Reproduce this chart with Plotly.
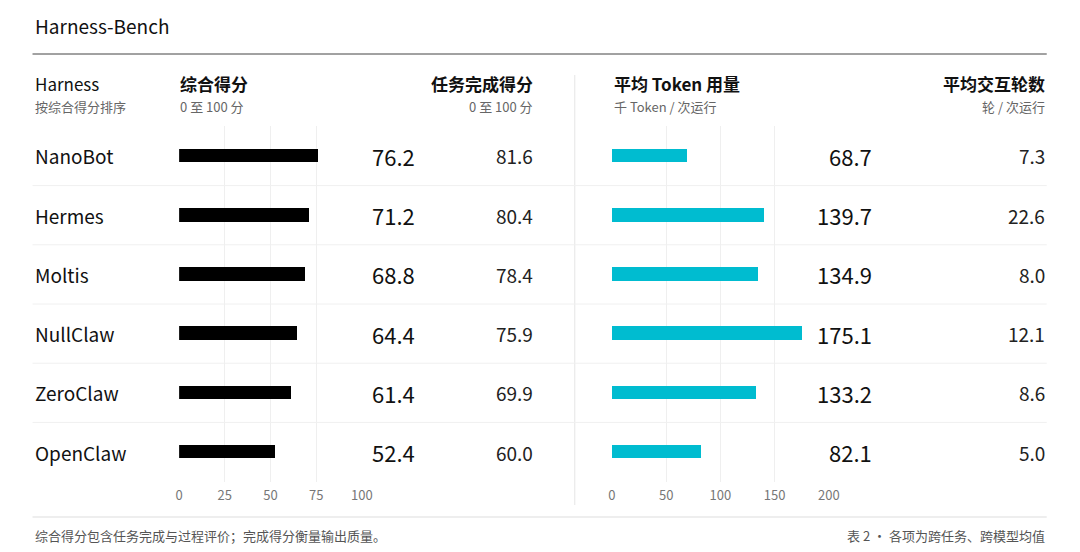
import plotly.graph_objects as go

harness = ["NanoBot", "Hermes", "Moltis", "NullClaw", "ZeroClaw", "OpenClaw"]
overall = [76.2, 71.2, 68.8, 64.4, 61.4, 52.4]
completion = [81.6, 80.4, 78.4, 75.9, 69.9, 60.0]
tokens = [68.7, 139.7, 134.9, 175.1, 133.2, 82.1]
turns = [7.3, 22.6, 8.0, 12.1, 8.6, 5.0]
left_ticks = [0, 25, 50, 75, 100]
right_ticks = [0, 50, 100, 150, 200]

W, H = 1080, 552
FONT = "Noto Sans CJK SC"
px = lambda x: (x - 6.6) / 0.982 / W
py = lambda y: 1 - y / H
rows = list(range(len(harness)))

fig = go.Figure()
fig.add_trace(go.Bar(x=overall, y=rows, orientation="h", marker=dict(color="#000000", line_width=0),
                     width=0.23, xaxis="x", yaxis="y", hoverinfo="skip"))
fig.add_trace(go.Bar(x=tokens, y=rows, orientation="h", marker=dict(color="#00BCD0", line_width=0),
                     width=0.23, xaxis="x2", yaxis="y2", hoverinfo="skip"))

ydom = [py(481.6), py(126.4)]
axcommon = dict(showgrid=True, gridcolor="#EFEFEF", gridwidth=1, zeroline=False, showline=False,
                tickfont=dict(size=13, color="#777777", family=FONT), ticks="", fixedrange=True,
                ticklabelstandoff=4)
fig.update_layout(
    width=W, height=H, margin=dict(l=0, r=0, t=0, b=0),
    paper_bgcolor="white", plot_bgcolor="rgba(0,0,0,0)", showlegend=False, bargap=0,
    font=dict(family=FONT, color="#111111"),
    xaxis=dict(domain=[px(181), px(363)], range=[0, 100], tickvals=left_ticks, anchor="y", **axcommon),
    xaxis2=dict(domain=[px(612), px(828)], range=[0, 200], tickvals=right_ticks, anchor="y2", **axcommon),
    yaxis=dict(domain=ydom, range=[5.5, -0.5], visible=False, fixedrange=True),
    yaxis2=dict(domain=ydom, range=[5.5, -0.5], visible=False, fixedrange=True),
)

shapes = []
shapes.append(dict(type="line", xref="paper", yref="paper", x0=px(35), x1=px(1045), y0=py(54), y1=py(54),
                   line=dict(color="#444444", width=1)))
shapes.append(dict(type="line", xref="paper", yref="paper", x0=px(35), x1=px(1045), y0=py(517), y1=py(517),
                   line=dict(color="#DDDDDD", width=1)))
shapes.append(dict(type="line", xref="paper", yref="paper", x0=px(575), x1=px(575), y0=py(75), y1=py(505),
                   line=dict(color="#E6E6E6", width=1)))
for i in range(len(harness) - 1):
    yy = py(156 + 59.2 * (i + 0.5))
    shapes.append(dict(type="line", xref="paper", yref="paper", x0=px(35), x1=px(1045), y0=yy, y1=yy,
                       line=dict(color="#F0F0F0", width=1)))
fig.update_layout(shapes=shapes)

ann = []
def t(x, y, s, size, color="#111111", xa="left", weight=None):
    txt = f"<b>{s}</b>" if weight else s
    ann.append(dict(x=px(x), y=py(y), xref="paper", yref="paper", text=txt, showarrow=False,
                    xanchor=xa, yanchor="middle", font=dict(size=size, color=color, family=FONT)))

t(35, 26, "Harness-Bench", 19)
t(35, 83, "Harness", 17)
t(35, 107, "按综合得分排序", 13, "#666666")
t(180, 83, "综合得分", 17, weight=True)
t(180, 107, "0 至 100 分", 13, "#666666")
t(535, 83, "任务完成得分", 17, xa="right", weight=True)
t(535, 107, "0 至 100 分", 13, "#666666", xa="right")
t(612, 83, "平均 Token 用量", 17, weight=True)
t(612, 107, "千 Token / 次运行", 13, "#666666")
t(1045, 83, "平均交互轮数", 17, xa="right", weight=True)
t(1045, 107, "轮 / 次运行", 13, "#666666", xa="right")
for i, name in enumerate(harness):
    y = 156 + 59.2 * i
    t(35, y, name, 19)
    t(418, y, f"{overall[i]:.1f}", 22, xa="right")
    t(535, y, f"{completion[i]:.1f}", 19, "#222222", xa="right")
    t(873, y, f"{tokens[i]:.1f}", 22, xa="right")
    t(1045, y, f"{turns[i]:.1f}", 19, "#222222", xa="right")
t(35, 535, "综合得分包含任务完成与过程评价；完成得分衡量输出质量。", 13, "#555555")
t(1045, 535, "表 2 · 各项为跨任务、跨模型均值", 13, "#555555", xa="right")
fig.update_layout(annotations=ann)

fig.write_html("out.html", config={"displayModeBar": False},
               post_script="document.body.style.margin='0';document.body.style.overflow='hidden';")
